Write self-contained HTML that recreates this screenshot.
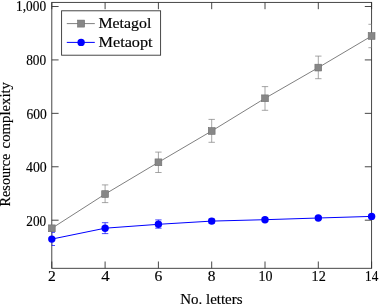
<!DOCTYPE html><html><head><meta charset="utf-8"><style>html,body{margin:0;padding:0;background:#fff;}svg{display:block;will-change:transform;}text{font-family:"Liberation Serif",serif;stroke:#000;stroke-width:0.15px;}</style></head><body>
<svg width="379" height="304" viewBox="0 0 379 304">
<rect width="379" height="304" fill="#fff"/>
<rect x="51.80" y="2.40" width="319.80" height="265.90" fill="none" stroke="#333" stroke-width="0.9"/>
<path d="M51.80 268.30v-6.8M51.80 2.40v6.8M105.10 268.30v-6.8M105.10 2.40v6.8M158.40 268.30v-6.8M158.40 2.40v6.8M211.70 268.30v-6.8M211.70 2.40v6.8M265.00 268.30v-6.8M265.00 2.40v6.8M318.30 268.30v-6.8M318.30 2.40v6.8M371.60 268.30v-6.8M371.60 2.40v6.8M51.80 220.20h6.8M371.60 220.20h-6.8M51.80 166.78h6.8M371.60 166.78h-6.8M51.80 113.35h6.8M371.60 113.35h-6.8M51.80 59.92h6.8M371.60 59.92h-6.8M51.80 6.50h6.8M371.60 6.50h-6.8" stroke="#333" stroke-width="0.9" fill="none"/>
<polyline points="51.80,228.30 105.10,194.10 158.40,162.30 211.70,131.00 265.00,98.30 318.30,67.60 371.60,36.00" fill="none" stroke="#808080" stroke-width="1"/>
<polyline points="51.80,239.10 105.10,228.20 158.40,224.30 211.70,221.10 265.00,219.70 318.30,218.00 371.60,216.40" fill="none" stroke="#0000ff" stroke-width="1"/>
<defs><clipPath id="c"><rect x="51.80" y="2.40" width="319.80" height="265.90"/></clipPath></defs>
<g clip-path="url(#c)">
<path d="M105.10 184.90V202.60M101.90 184.90H108.30M101.90 202.60H108.30M158.40 152.10V172.50M155.20 152.10H161.60M155.20 172.50H161.60M211.70 119.40V142.30M208.50 119.40H214.90M208.50 142.30H214.90M265.00 86.60V110.30M261.80 86.60H268.20M261.80 110.30H268.20M318.30 56.10V78.70M315.10 56.10H321.50M315.10 78.70H321.50M371.60 24.30V47.70M368.40 24.30H374.80M368.40 47.70H374.80" stroke="#808080" stroke-width="0.7" fill="none"/>
<path d="M51.80 232.40V245.50M48.60 232.40H55.00M48.60 245.50H55.00M105.10 222.70V233.60M101.90 222.70H108.30M101.90 233.60H108.30M158.40 219.90V228.20M155.20 219.90H161.60M155.20 228.20H161.60M211.70 219.00V223.20M208.50 219.00H214.90M208.50 223.20H214.90M265.00 218.10V221.30M261.80 218.10H268.20M261.80 221.30H268.20M318.30 216.70V219.30M315.10 216.70H321.50M315.10 219.30H321.50M371.60 215.30V217.50M368.40 215.30H374.80M368.40 217.50H374.80" stroke="#0000ff" stroke-width="0.7" fill="none"/>
</g>
<rect x="48.40" y="224.90" width="6.8" height="6.8" fill="#878787" stroke="#6e6e6e" stroke-width="0.6"/>
<rect x="101.70" y="190.70" width="6.8" height="6.8" fill="#878787" stroke="#6e6e6e" stroke-width="0.6"/>
<rect x="155.00" y="158.90" width="6.8" height="6.8" fill="#878787" stroke="#6e6e6e" stroke-width="0.6"/>
<rect x="208.30" y="127.60" width="6.8" height="6.8" fill="#878787" stroke="#6e6e6e" stroke-width="0.6"/>
<rect x="261.60" y="94.90" width="6.8" height="6.8" fill="#878787" stroke="#6e6e6e" stroke-width="0.6"/>
<rect x="314.90" y="64.20" width="6.8" height="6.8" fill="#878787" stroke="#6e6e6e" stroke-width="0.6"/>
<rect x="368.20" y="32.60" width="6.8" height="6.8" fill="#878787" stroke="#6e6e6e" stroke-width="0.6"/>
<circle cx="51.80" cy="239.10" r="3.7" fill="#0000ff"/>
<circle cx="105.10" cy="228.20" r="3.7" fill="#0000ff"/>
<circle cx="158.40" cy="224.30" r="3.7" fill="#0000ff"/>
<circle cx="211.70" cy="221.10" r="3.7" fill="#0000ff"/>
<circle cx="265.00" cy="219.70" r="3.7" fill="#0000ff"/>
<circle cx="318.30" cy="218.00" r="3.7" fill="#0000ff"/>
<circle cx="371.60" cy="216.40" r="3.7" fill="#0000ff"/>
<text x="47.90" y="281.3" font-size="13.6" textLength="7.80" lengthAdjust="spacingAndGlyphs">2</text>
<text x="101.30" y="281.3" font-size="13.6" textLength="8.40" lengthAdjust="spacingAndGlyphs">4</text>
<text x="154.60" y="281.3" font-size="13.6" textLength="7.80" lengthAdjust="spacingAndGlyphs">6</text>
<text x="207.80" y="281.3" font-size="13.6" textLength="7.70" lengthAdjust="spacingAndGlyphs">8</text>
<text x="258.40" y="281.3" font-size="13.6" textLength="14.00" lengthAdjust="spacingAndGlyphs">10</text>
<text x="311.60" y="281.3" font-size="13.6" textLength="14.20" lengthAdjust="spacingAndGlyphs">12</text>
<text x="365.10" y="281.3" font-size="13.6" textLength="13.20" lengthAdjust="spacingAndGlyphs">14</text>
<text x="26.30" y="225.50" font-size="13.6" textLength="19.90" lengthAdjust="spacingAndGlyphs">200</text>
<text x="26.00" y="172.08" font-size="13.6" textLength="20.70" lengthAdjust="spacingAndGlyphs">400</text>
<text x="26.40" y="118.65" font-size="13.6" textLength="20.30" lengthAdjust="spacingAndGlyphs">600</text>
<text x="26.20" y="65.22" font-size="13.6" textLength="20.00" lengthAdjust="spacingAndGlyphs">800</text>
<text x="16.10" y="10.90" font-size="13.6" textLength="30.00" lengthAdjust="spacingAndGlyphs">1,000</text>
<text x="180.2" y="303.9" font-size="14.2" textLength="62.4" lengthAdjust="spacingAndGlyphs">No. letters</text>
<text transform="translate(10.25,206.4) rotate(-90)" x="0" y="0" font-size="13.9" textLength="52.8" lengthAdjust="spacingAndGlyphs">Resource</text>
<text transform="translate(10.25,148.4) rotate(-90)" x="0" y="0" font-size="13.9" textLength="66.4" lengthAdjust="spacingAndGlyphs">complexity</text>
<rect x="61.6" y="10.8" width="99.0" height="44.4" fill="#fff" stroke="#333" stroke-width="0.9"/>
<path d="M66.8 23.6H94.8" stroke="#808080" stroke-width="1"/>
<rect x="77.60" y="20.10" width="7.0" height="7.0" fill="#878787" stroke="#6e6e6e" stroke-width="0.6"/>
<path d="M66.8 42.4H94.8" stroke="#0000ff" stroke-width="1"/>
<circle cx="81.1" cy="42.4" r="3.7" fill="#0000ff"/>
<text x="98.5" y="28.0" font-size="14.4" textLength="52.8" lengthAdjust="spacingAndGlyphs">Metagol</text>
<text x="98.5" y="46.6" font-size="14.4" textLength="54.1" lengthAdjust="spacingAndGlyphs">Metaopt</text>
</svg></body></html>
